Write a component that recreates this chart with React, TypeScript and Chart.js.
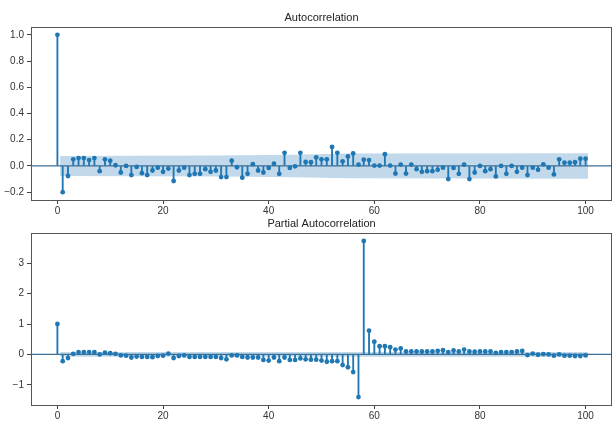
import React, { useEffect, useRef } from "react";
import { Chart, registerables } from "chart.js";

Chart.register(...registerables);

// ---- data ----
const LAGS: number[] = Array.from({ length: 101 }, (_, i) => i);

const ACF_VALUES: number[] = [
  1.0, -0.2, -0.077, 0.05, 0.06, 0.06, 0.045, 0.06, -0.04, 0.05,
  0.04, 0.005, -0.05, 0.0, -0.07, -0.008, -0.055, -0.07, -0.035, -0.013,
  -0.045, -0.02, -0.115, -0.035, -0.013, -0.07, -0.06, -0.06, -0.025, -0.045,
  -0.035, -0.085, -0.085, 0.04, -0.01, -0.09, -0.06, 0.013, -0.035, -0.05,
  -0.015, 0.018, -0.06, 0.1, -0.015, -0.003, 0.1, 0.03, 0.028, 0.065,
  0.05, 0.05, 0.145, 0.1, 0.035, 0.072, 0.095, 0.01, 0.048, 0.045,
  0.003, 0.003, 0.09, 0.003, -0.058, 0.01, -0.058, 0.01, -0.025, -0.045,
  -0.04, -0.04, -0.03, -0.013, -0.1, -0.015, -0.06, 0.01, -0.1, -0.05,
  0.0, -0.04, -0.025, -0.08, 0.0, -0.06, 0.0, -0.045, -0.013, -0.07,
  -0.013, -0.03, 0.012, -0.013, -0.065, 0.05, 0.025, 0.025, 0.028, 0.055,
  0.055,
];

const PACF_VALUES: number[] = [
  1.0, -0.22, -0.12, 0.02, 0.08, 0.08, 0.08, 0.08, 0.0, 0.06,
  0.04, 0.02, -0.03, -0.04, -0.1, -0.07, -0.08, -0.08, -0.09, -0.05,
  -0.04, 0.03, -0.12, -0.05, -0.03, -0.08, -0.08, -0.08, -0.08, -0.08,
  -0.08, -0.12, -0.16, -0.03, -0.03, -0.08, -0.1, -0.1, -0.1, -0.18,
  -0.2, -0.1, -0.22, -0.1, -0.18, -0.18, -0.13, -0.16, -0.17, -0.17,
  -0.2, -0.24, -0.22, -0.22, -0.35, -0.42, -0.58, -1.4, 3.73, 0.78,
  0.42, 0.27, 0.27, 0.24, 0.16, 0.2, 0.1, 0.1, 0.1, 0.1,
  0.1, 0.1, 0.12, 0.14, 0.08, 0.13, 0.1, 0.16, 0.1, 0.09,
  0.1, 0.1, 0.1, 0.05, 0.08, 0.08, 0.08, 0.1, 0.12, -0.02,
  0.03, -0.01, 0.01, 0.0, -0.04, 0.0, -0.04, -0.04, -0.05, -0.05,
  -0.03,
];

const ACF_BAND_LAGS: number[] = [0.5, 1, 30, 45, 55, 100.5];
const ACF_BAND_HALF: number[] = [0.076, 0.076, 0.08, 0.086, 0.094, 0.097];
const PACF_BAND_LAGS: number[] = [0.5, 100.5];
const PACF_BAND_HALF: number[] = [0.077, 0.077];

const X_TICKS: number[] = [0, 20, 40, 60, 80, 100];
const ACF_Y_TICKS: number[] = [-0.2, 0.0, 0.2, 0.4, 0.6, 0.8, 1.0];
const PACF_Y_TICKS: number[] = [-1, 0, 1, 2, 3];

const ACF_TITLE = "Autocorrelation";
const PACF_TITLE = "Partial Autocorrelation";

// ---- styling ----
const BLUE = "#1f77b4";
const FONT_FAMILY = "'Liberation Sans Narrow', 'Liberation Sans', 'DejaVu Sans', sans-serif";
const TICK_COLOR = "#333";

const fmtMinus = (s: string) => s.replace("-", "\u2212");

function makeConfig(opts: {
  values: number[];
  bandLags: number[];
  bandHalf: number[];
  yMin: number;
  yMax: number;
  yTicks: number[];
  yFmt: (v: number) => string;
  title: string;
  padTop: number;
  xAxisH: number;
}): any {
  const { values, bandLags, bandHalf, yMin, yMax, yTicks, yFmt, title, padTop, xAxisH } = opts;
  const pts = values.map((v, i) => ({ x: LAGS[i], y: v }));

  const plugins = [
    {
      id: "zeroLine",
      beforeDatasetDraw(chart: any, args: any) {
        if (args.index !== 3) return;
        const { ctx, chartArea } = chart;
        const y = chart.scales.y.getPixelForValue(0);
        ctx.save();
        ctx.strokeStyle = "#3b6f96";
        ctx.lineWidth = 1.3;
        ctx.beginPath();
        ctx.moveTo(chartArea.left, y);
        ctx.lineTo(chartArea.right, y);
        ctx.stroke();
        ctx.restore();
      },
    },
    {
      id: "frameTitle",
      afterDraw(chart: any) {
        const { ctx, chartArea } = chart;
        ctx.save();
        ctx.strokeStyle = "#555";
        ctx.lineWidth = 1;
        ctx.strokeRect(
          Math.round(chartArea.left) + 0.5,
          Math.round(chartArea.top) + 0.5,
          Math.round(chartArea.right - chartArea.left) - 1,
          Math.round(chartArea.bottom - chartArea.top)
        );
        ctx.fillStyle = "#222";
        ctx.font = `11px ${FONT_FAMILY}`;
        ctx.textAlign = "center";
        ctx.textBaseline = "middle";
        ctx.fillText(title, (chartArea.left + chartArea.right) / 2, chartArea.top - 9);
        ctx.restore();
      },
    },
  ];

  return {
    type: "bar",
    data: {
      datasets: [
        {
          type: "line",
          data: bandLags.map((l, i) => ({ x: l, y: bandHalf[i] })),
          borderWidth: 0,
          pointRadius: 0,
          fill: false,
          order: 5,
        },
        {
          type: "line",
          data: bandLags.map((l, i) => ({ x: l, y: -bandHalf[i] })),
          borderWidth: 0,
          pointRadius: 0,
          fill: "-1",
          backgroundColor: "rgba(31,119,180,0.28)",
          order: 4,
        },
        {
          type: "bar",
          data: pts,
          backgroundColor: BLUE,
          borderWidth: 0,
          barThickness: 1.2,
          order: 3,
        },
        {
          type: "scatter",
          data: pts,
          pointRadius: 2.4,
          pointBackgroundColor: BLUE,
          pointBorderWidth: 0,
          showLine: false,
          order: 1,
        },
      ],
    },
    options: {
      responsive: false,
      animation: false,
      devicePixelRatio: 1,
      layout: { padding: { top: padTop, right: 1, left: 0, bottom: 0 } },
      plugins: {
        legend: { display: false },
        tooltip: { enabled: false },
        title: { display: false },
      },
      scales: {
        x: {
          type: "linear",
          min: -5,
          max: 105,
          offset: false,
          grid: {
            display: true,
            offset: false,
            drawOnChartArea: false,
            drawTicks: true,
            tickLength: 4,
            color: "#444",
          },
          border: { display: false },
          ticks: {
            font: { family: FONT_FAMILY, size: 10 },
            color: TICK_COLOR,
            padding: 1,
            maxRotation: 0,
            autoSkip: false,
            callback: (v: number) => String(v),
          },
          afterBuildTicks: (s: any) => {
            s.ticks = X_TICKS.map((v) => ({ value: v }));
          },
          afterFit: (s: any) => {
            s.height = xAxisH;
          },
        },
        y: {
          type: "linear",
          min: yMin,
          max: yMax,
          grid: { display: true, offset: false, drawOnChartArea: false, drawTicks: true, tickLength: 4, color: "#444" },
          border: { display: false },
          ticks: {
            font: { family: FONT_FAMILY, size: 10 },
            color: TICK_COLOR,
            padding: 3,
            autoSkip: false,
            callback: (v: number) => yFmt(v),
          },
          afterBuildTicks: (s: any) => {
            s.ticks = yTicks.map((v) => ({ value: v }));
          },
          afterFit: (s: any) => {
            s.width = 31;
          },
        },
      },
    },
    plugins,
  };
}

export default function App() {
  const topRef = useRef<HTMLCanvasElement | null>(null);
  const botRef = useRef<HTMLCanvasElement | null>(null);

  useEffect(() => {
    if (!topRef.current || !botRef.current) return;
    const top = new Chart(
      topRef.current,
      makeConfig({
        values: ACF_VALUES,
        bandLags: ACF_BAND_LAGS,
        bandHalf: ACF_BAND_HALF,
        yMin: -0.26,
        yMax: 1.06,
        yTicks: ACF_Y_TICKS,
        yFmt: (v) => fmtMinus(v.toFixed(1)),
        title: ACF_TITLE,
        padTop: 27,
        xAxisH: 20,
      })
    );
    const bot = new Chart(
      botRef.current,
      makeConfig({
        values: PACF_VALUES,
        bandLags: PACF_BAND_LAGS,
        bandHalf: PACF_BAND_HALF,
        yMin: -1.66,
        yMax: 3.99,
        yTicks: PACF_Y_TICKS,
        yFmt: (v) => fmtMinus(String(Math.round(v))),
        title: PACF_TITLE,
        padTop: 23,
        xAxisH: 18,
      })
    );
    return () => {
      top.destroy();
      bot.destroy();
    };
  }, []);

  return (
    <div style={{ position: "fixed", left: 0, top: 0, width: 616, height: 423, background: "#fff", overflow: "hidden" }}>
      <canvas ref={topRef} width={616} height={220} style={{ position: "absolute", left: 0, top: 0 }} />
      <canvas ref={botRef} width={616} height={213} style={{ position: "absolute", left: 0, top: 210 }} />
    </div>
  );
}
